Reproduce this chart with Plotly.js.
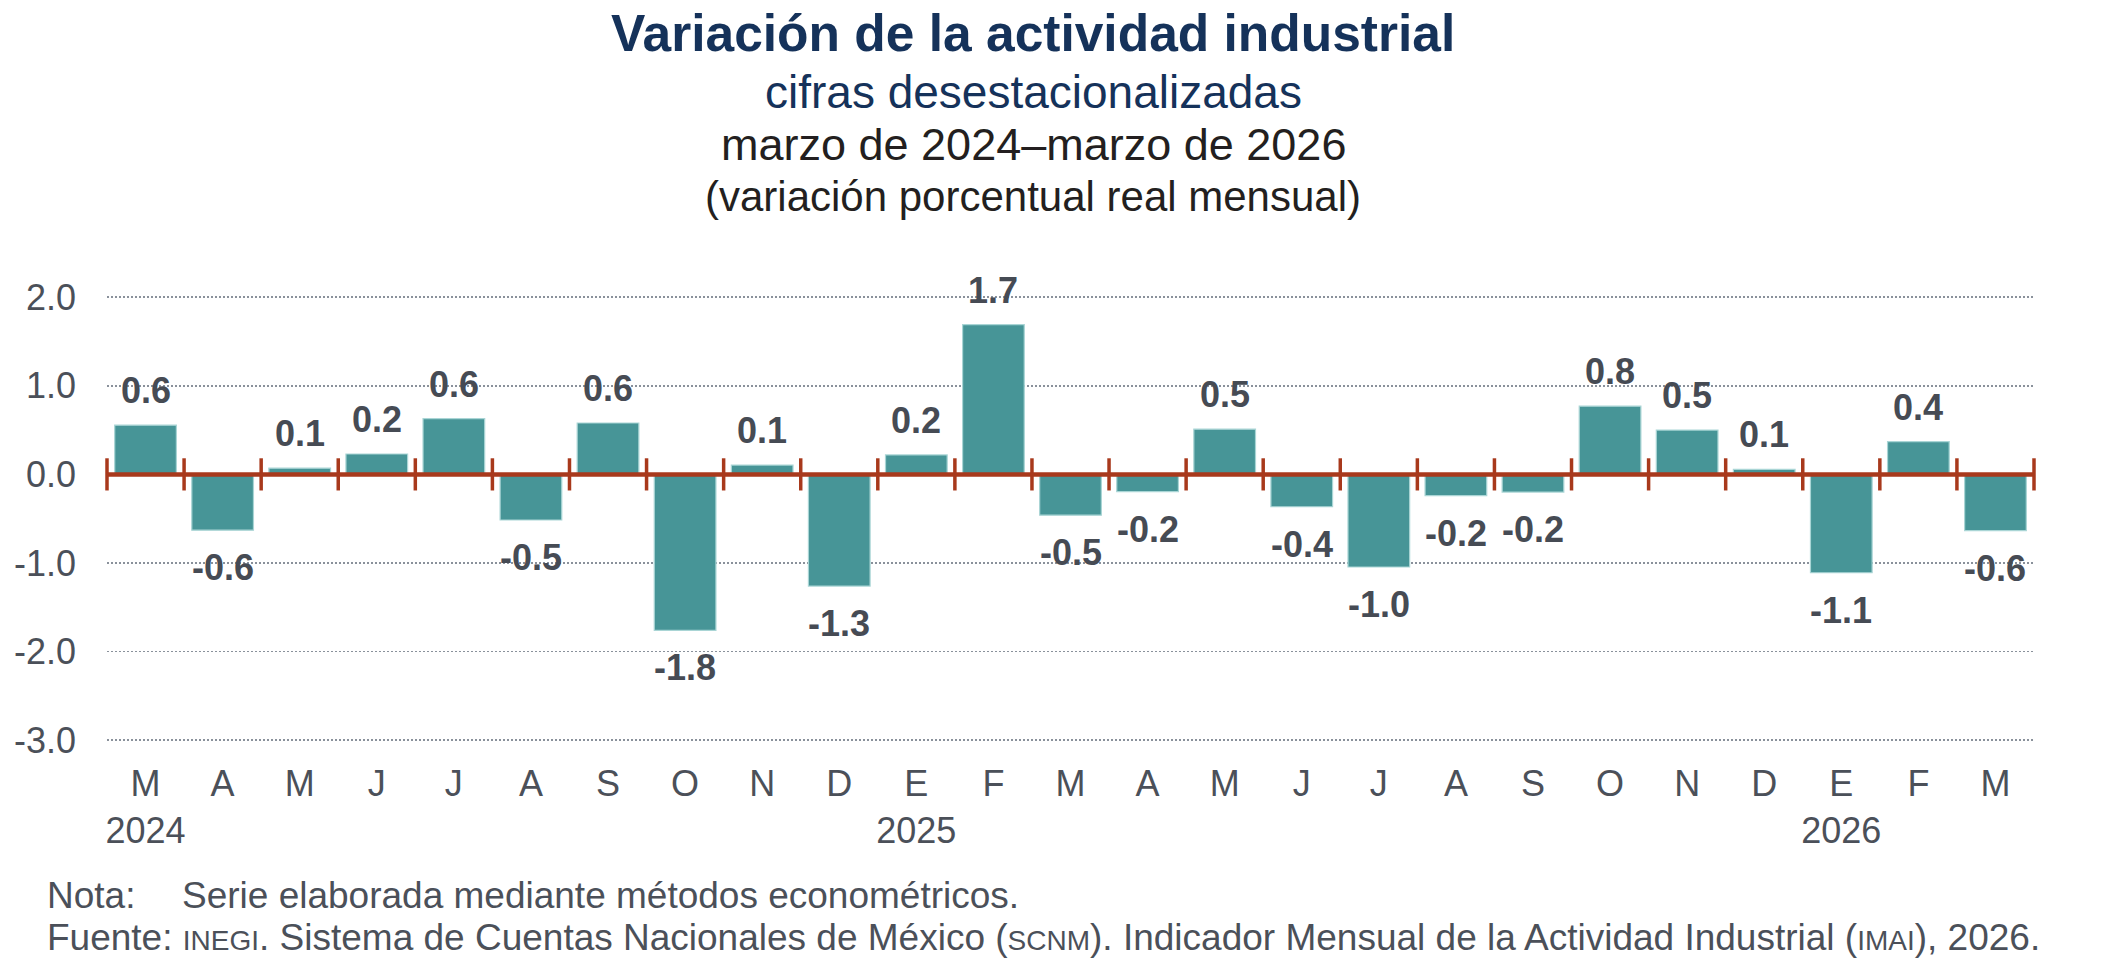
<!DOCTYPE html>
<html>
<head>
<meta charset="utf-8">
<script src="https://cdn.plot.ly/plotly-3.0.1.min.js"></script>
<style>
  html, body { margin: 0; padding: 0; background: #ffffff; }
  #chart { width: 2120px; height: 978px; }
</style>
</head>
<body>
<div id="chart"></div>
<script>
// Months from marzo 2024 to marzo 2026
const months = ['M', 'A', 'M', 'J', 'J', 'A', 'S', 'O', 'N', 'D', 'E', 'F',
                'M', 'A', 'M', 'J', 'J', 'A', 'S', 'O', 'N', 'D', 'E', 'F', 'M'];
const yearTicks = [0, 10, 22];
const years = ['2024', '2025', '2026'];

const values = [0.555, -0.63, 0.07, 0.23, 0.63, -0.515, 0.58, -1.76, 0.105, -1.26, 0.22, 1.69,
                -0.46, -0.195, 0.51, -0.365, -1.045, -0.24, -0.2, 0.77, 0.50, 0.056, -1.11, 0.37, -0.635];
const labels = ['0.6', '-0.6', '0.1', '0.2', '0.6', '-0.5', '0.6', '-1.8', '0.1', '-1.3', '0.2', '1.7',
                '-0.5', '-0.2', '0.5', '-0.4', '-1.0', '-0.2', '-0.2', '0.8', '0.5', '0.1', '-1.1', '0.4', '-0.6'];

const yTicks = [2, 1, 0, -1, -2, -3];
const yTickLabels = ['2.0', '1.0', '0.0', '-1.0', '-2.0', '-3.0'];

const FONT = '"Liberation Sans", Arial, sans-serif';
const GRAY = '#4b5059';
const NAVY = '#15325a';
const RED = '#a8391c';

const W = 2120, H = 978;
const M = { l: 107, r: 86, t: 275, b: 236 };
const plotW = W - M.l - M.r;
const plotH = H - M.t - M.b;
// page pixel -> paper fraction (only for titles and notes)
const px = x => (x - M.l) / plotW;
const py = y => (H - M.b - y) / plotH;

const idx = months.map((m, i) => i);
const ticktext = months.map((m, i) => {
    const k = yearTicks.indexOf(i);
    return k >= 0 ? m + '<br>' + years[k] : m;
});
// category boundaries for the red tick marks on the zero line
const bounds = months.concat(['']).map((m, i) => i - 0.5);

const bars = {
    type: 'bar',
    x: idx,
    y: values,
    marker: { color: '#479597', line: { color: '#a9d5d5', width: 1.2 } },
    hoverinfo: 'skip'
};

const boundTicks = {
    type: 'scatter',
    mode: 'markers',
    x: bounds,
    y: bounds.map(() => 0),
    cliponaxis: false,
    marker: { symbol: 'line-ns', size: 23, line: { color: RED, width: 3.5 } },
    hoverinfo: 'skip'
};

const annotations = values.map((v, i) => ({
    x: i, y: v, xref: 'x', yref: 'y',
    text: labels[i],
    showarrow: false,
    xanchor: 'center',
    yanchor: v >= 0 ? 'bottom' : 'top',
    yshift: v >= 0 ? 12 : -15,
    font: { family: FONT, size: 36, color: '#464b54', weight: 'bold' }
}));

const heads = [
    { text: '<b>Variación de la actividad industrial</b>', y: 33, size: 51.5, color: NAVY },
    { text: 'cifras desestacionalizadas', y: 92, size: 46, color: NAVY },
    { text: 'marzo de 2024–marzo de 2026', y: 145, size: 45, color: '#231f20' },
    { text: '(variación porcentual real mensual)', y: 196, size: 42, color: '#231f20' }
];
heads.forEach(h => annotations.push({
    xref: 'paper', yref: 'paper', x: px(1033), y: py(h.y),
    xanchor: 'center', yanchor: 'middle', showarrow: false, borderpad: 0,
    text: h.text, font: { family: FONT, size: h.size, color: h.color }
}));

const sc = t => '<span style="font-size:28px">' + t + '</span>';
const notes = [
    { text: 'Nota:', x: 46, y: 895 },
    { text: 'Serie elaborada mediante métodos econométricos.', x: 181, y: 895 },
    { text: 'Fuente: ' + sc('INEGI') + '. Sistema de Cuentas Nacionales de México (' + sc('SCNM') +
            '). Indicador Mensual de la Actividad Industrial (' + sc('IMAI') + '), 2026.', x: 46, y: 937 }
];
notes.forEach(n => annotations.push({
    xref: 'paper', yref: 'paper', x: px(n.x), y: py(n.y),
    xanchor: 'left', yanchor: 'middle', showarrow: false, borderpad: 0,
    text: n.text, font: { family: FONT, size: 37, color: GRAY }
}));

const layout = {
    width: W,
    height: H,
    margin: M,
    showlegend: false,
    bargap: 0.2,
    paper_bgcolor: '#ffffff',
    plot_bgcolor: '#ffffff',
    font: { family: FONT, color: GRAY },
    xaxis: {
        range: [-0.5, months.length - 0.5],
        tickvals: idx,
        ticktext: ticktext,
        ticks: '',
        showgrid: false,
        zeroline: false,
        showline: false,
        ticklabelstandoff: 17,
        tickfont: { family: FONT, size: 36, color: GRAY },
        fixedrange: true
    },
    yaxis: {
        range: [-3.02, 2.25],
        tickvals: yTicks,
        ticktext: yTickLabels,
        ticks: '',
        showgrid: true,
        gridcolor: '#8a919b',
        gridwidth: 1.7,
        griddash: '2px,2px',
        zeroline: false,
        showline: false,
        ticklabelstandoff: 30,
        tickfont: { family: FONT, size: 36, color: GRAY },
        fixedrange: true
    },
    shapes: [{
        type: 'line', layer: 'above',
        xref: 'paper', x0: 0, x1: 1,
        yref: 'y', y0: 0, y1: 0,
        line: { color: RED, width: 4.5 }
    }],
    annotations: annotations
};

Plotly.newPlot('chart', [bars, boundTicks], layout, { staticPlot: true, displayModeBar: false });
</script>
</body>
</html>
